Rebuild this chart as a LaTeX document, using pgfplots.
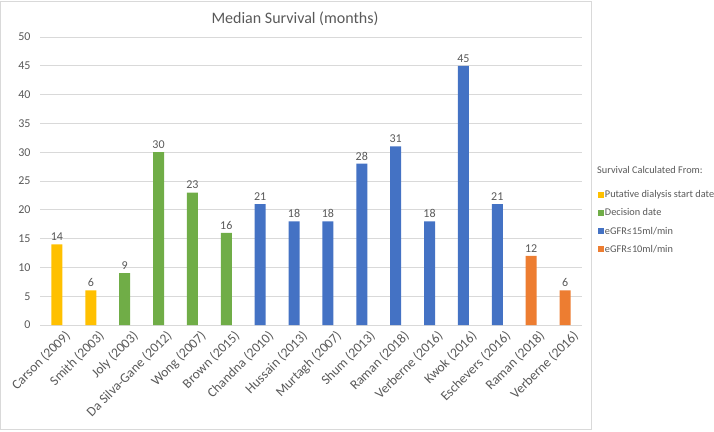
\documentclass[border=0pt]{standalone}
\usepackage{fontspec}
\setmainfont{Carlito}
\usepackage{pgfplots}
\pgfplotsset{compat=1.18}
\definecolor{cyel}{HTML}{FFC000}
\definecolor{cgrn}{HTML}{70AD47}
\definecolor{cblu}{HTML}{4472C4}
\definecolor{corg}{HTML}{ED7D31}
\definecolor{txt}{HTML}{595959}
\definecolor{grd}{HTML}{D9D9D9}
\pgfplotsset{sqlegend/.style={legend image code/.code={\fill[##1] (0pt,-3pt) rectangle (6pt,3pt);}}}
\begin{document}
\begin{tikzpicture}[x=1pt,y=1pt]
\useasboundingbox (0,0) rectangle (714,431);
\draw[grd, line width=0.75pt] (0.5,2) rectangle (591,429.5);
\node[txt, font=\fontsize{16}{19}\selectfont] at (295,412) {Median Survival (months)};
\node[txt, font=\fontsize{10.3}{12}\selectfont, anchor=west, inner sep=0pt] at (597,261) {Survival Calculated From:};
\begin{axis}[
  at={(40pt,106pt)}, anchor=south west, scale only axis,
  width=542pt, height=288pt,
  xmin=-0.5, xmax=15.5, ymin=0, ymax=50,
  ytick={0,5,...,50},
  xtick={0,...,15},
  xticklabels={Carson (2009),Smith (2003),Joly (2003),Da Silva-Gane (2012),Wong (2007),Brown (2015),Chandna (2010),Hussain (2013),Murtagh (2007),Shum (2013),Raman (2018),Verberne (2016),Kwok (2016),Eschevers (2016),Raman (2018),Verberne (2016)},
  x tick label style={rotate=45, anchor=north east, txt, font=\fontsize{13.5}{16}\selectfont, inner sep=1pt, xshift=3pt, yshift=-7pt},
  y tick label style={txt, font=\fontsize{12}{14}\selectfont, xshift=-6pt},
  /pgf/number format/assume math mode=true,
  axis x line*=bottom, axis y line*=left,
  y axis line style={draw=none},
  x axis line style={grd, line width=0.75pt},
  major tick length=0pt,
  ymajorgrids, grid style={grd, line width=0.75pt},
  bar width=11pt,
  nodes near coords,
  every node near coord/.append style={txt, font=\fontsize{12}{14}\selectfont},
  legend style={at={(1.029,0.474)}, anchor=north west, draw=none, fill=none, inner sep=0pt,
    font=\fontsize{10.3}{12}\selectfont, text=txt, row sep=5.5pt, nodes={inner xsep=1pt}},
  legend cell align=left,
]
\addplot[ybar, bar shift=0pt, fill=cyel, draw=none, sqlegend] coordinates {(0,14) (1,6)};
\addlegendentry{Putative dialysis start date}
\addplot[ybar, bar shift=0pt, fill=cgrn, draw=none, sqlegend] coordinates {(2,9) (3,30) (4,23) (5,16)};
\addlegendentry{Decision date}
\addplot[ybar, bar shift=0pt, fill=cblu, draw=none, sqlegend] coordinates {(6,21) (7,18) (8,18) (9,28) (10,31) (11,18) (12,45) (13,21)};
\addlegendentry{eGFR≤15ml/min}
\addplot[ybar, bar shift=0pt, fill=corg, draw=none, sqlegend] coordinates {(14,12) (15,6)};
\addlegendentry{eGFR≤10ml/min}
\end{axis}
\end{tikzpicture}
\end{document}
